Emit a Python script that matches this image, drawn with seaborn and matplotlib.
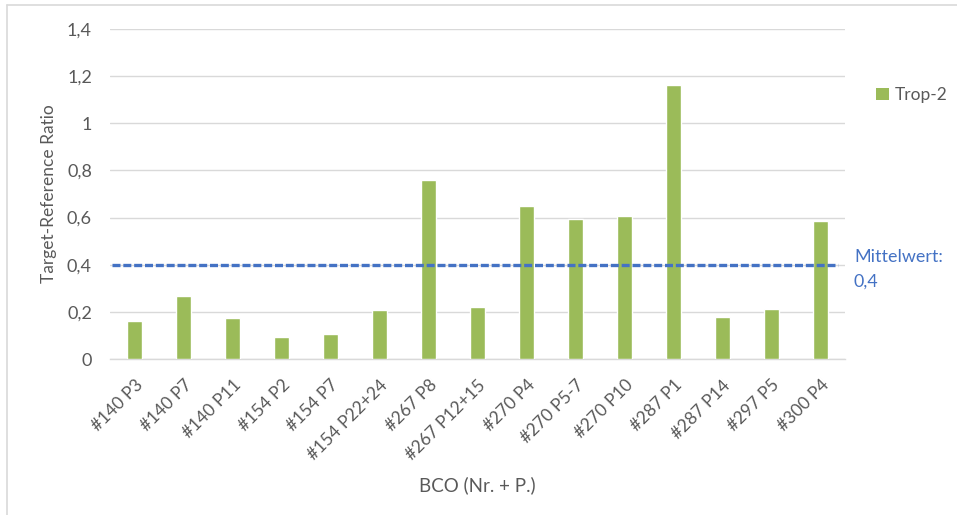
import matplotlib
matplotlib.use("Agg")
import matplotlib.pyplot as plt
from matplotlib.lines import Line2D
from matplotlib.patches import Patch
import seaborn as sns
import pandas as pd

samples = ["#140 P3", "#140 P7", "#140 P11", "#154 P2", "#154 P7", "#154 P22+24",
           "#267 P8", "#267 P12+15", "#270 P4", "#270 P5-7", "#270 P10", "#287 P1",
           "#287 P14", "#297 P5", "#300 P4"]
ratio = [0.161, 0.269, 0.173, 0.092, 0.105, 0.207, 0.761, 0.219, 0.649, 0.594,
         0.608, 1.164, 0.177, 0.211, 0.584]
mean_value = 0.4
y_ticks = [0, 0.2, 0.4, 0.6, 0.8, 1.0, 1.2, 1.4]

df = pd.DataFrame({"BCO": samples, "Ratio": ratio})

sns.set_theme(style="white")
plt.rcParams["font.family"] = ["Lato", "DejaVu Sans"]

text_color = "#595959"
bar_color = "#9BBB59"
line_color = "#4472C4"
grid_color = "#D9D9D9"

fig = plt.figure(figsize=(9.57, 5.15), dpi=100)
ax = fig.add_axes([110 / 957, 1 - 359 / 515, (845 - 110) / 957, (359 - 29) / 515])

sns.barplot(data=df, x="BCO", y="Ratio", color=bar_color, width=0.31,
            saturation=1, ax=ax, zorder=3)

ax.set_ylim(0, 1.4)
ax.set_xlim(-0.5, len(samples) - 0.5)
ax.set_yticks(y_ticks)
ax.set_yticklabels([("%g" % v).replace(".", ",") for v in y_ticks])
ax.yaxis.grid(True, color=grid_color, linewidth=1.0, zorder=0)
ax.set_axisbelow(True)
for side in ["top", "right", "left"]:
    ax.spines[side].set_visible(False)
ax.spines["bottom"].set_color(grid_color)
ax.spines["bottom"].set_linewidth(1.0)
ax.tick_params(axis="both", length=0, colors=text_color)
ax.tick_params(axis="y", pad=13, labelsize=13)
ax.tick_params(axis="x", pad=13, labelsize=12.5)
for lbl in ax.get_xticklabels():
    lbl.set_rotation(45)
    lbl.set_ha("right")
    lbl.set_va("top")
    lbl.set_rotation_mode("anchor")

ax.set_xlabel("BCO (Nr. + P.)", color=text_color, fontsize=13.5)
ax.xaxis.set_label_coords(0.5, -0.355)
ax.set_ylabel("Target-Reference Ratio", color=text_color, fontsize=12.5, labelpad=7)

# mean line
ax.plot([-0.45, len(samples) - 0.64], [mean_value, mean_value], color=line_color,
        linestyle=(0, (2.4, 0.85)), linewidth=2.4, zorder=4)
fig.text(854 / 957, 1 - 257 / 515, "Mittelwert:", color=line_color, fontsize=12.9,
         ha="left", va="center")
fig.text(854 / 957, 1 - 282 / 515, ("%g" % mean_value).replace(".", ","),
         color=line_color, fontsize=12.9, ha="left", va="center")

# legend
handle = Patch(facecolor=bar_color, edgecolor="none", label="Trop-2")
leg = fig.legend(handles=[handle], loc="center left",
                 bbox_to_anchor=(860 / 957, 1 - 95 / 515), frameon=False,
                 fontsize=12.5, handlelength=0.75, handleheight=0.75,
                 handletextpad=0.35)
for t in leg.get_texts():
    t.set_color(text_color)

# chart frame
fig.add_artist(Line2D([7.5 / 957, 7.5 / 957], [0, 1 - 5 / 515], transform=fig.transFigure,
                      color="#D9D9D9", linewidth=1.2))
fig.add_artist(Line2D([7.5 / 957, 1], [1 - 5 / 515, 1 - 5 / 515], transform=fig.transFigure,
                      color="#D9D9D9", linewidth=1.2))

fig.savefig("out.png", dpi=100, facecolor="white")
